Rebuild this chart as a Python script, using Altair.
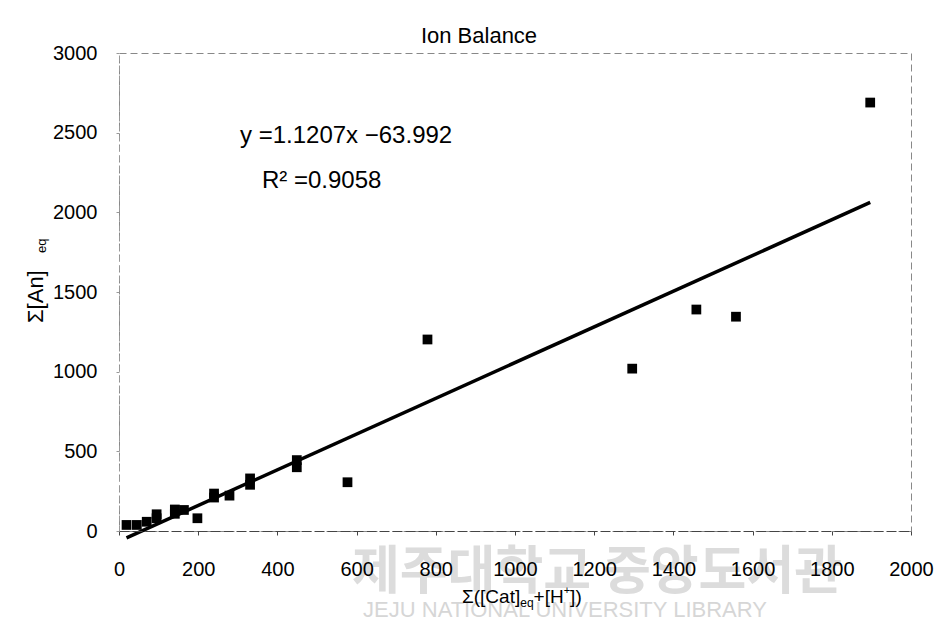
import altair as alt
import pandas as pd

# ---- data ----
cat_sum = [19, 45, 70, 95, 95, 141, 141, 164, 198, 240, 240, 279, 331, 331,
           449, 449, 577, 779, 1296, 1458, 1558, 1897]
an_sum = [38, 38, 58, 105, 80, 135, 108, 132, 80, 235, 210, 222, 330, 290,
          445, 400, 306, 1202, 1019, 1390, 1345, 2689]
slope = 1.1207
intercept = -63.992
x_ticks = list(range(0, 2001, 200))
y_ticks = list(range(0, 3001, 500))

title_text = "Ion Balance"
eq_line1 = "y =1.1207x \u221263.992"
eq_line2 = "R\u00b2 =0.9058"
x_title_parts = ["\u03a3([Cat]", "eq", "+[H", "+", "])"]
y_title_parts = ["\u03a3[An]", "eq"]
watermark_ko = "제주대학교 중앙도서관"
watermark_en = "JEJU NATIONAL UNIVERSITY LIBRARY"

W, H = 792, 478
FONT = "Liberation Sans"

df = pd.DataFrame({"cat": cat_sum, "an": an_sum})
line_df = pd.DataFrame({"cat": [min(cat_sum), max(cat_sum)]})

xs = alt.Scale(domain=[0, 2000], nice=False, zero=False)
ys = alt.Scale(domain=[0, 3000], nice=False, zero=False)

x_axis = alt.Axis(values=x_ticks, title=None, grid=False, labelFontSize=20, format="d",
                  labelFont=FONT, labelColor="black", domainColor="#444",
                  domainDash=[10, 3], tickColor="#444", tickSize=4, zindex=1,
                  labelPadding=24, labelOverlap=False, labelFlush=False)
y_axis = alt.Axis(values=y_ticks, title=None, grid=False, labelFontSize=20, format="d",
                  labelFont=FONT, labelColor="black", domainColor="#999",
                  domainDash=[6, 4], tickColor="#999", tickSize=3, zindex=1,
                  labelPadding=19, labelOverlap=False, labelFlush=False)

points = alt.Chart(df).mark_square(size=95, color="black", opacity=1, filled=True).encode(
    x=alt.X("cat:Q", scale=xs, axis=x_axis),
    y=alt.Y("an:Q", scale=ys, axis=y_axis),
)

trend = alt.Chart(line_df).transform_calculate(
    an=f"{slope} * datum.cat + ({intercept})"
).mark_line(color="black", strokeWidth=3.5).encode(
    x=alt.X("cat:Q", scale=xs),
    y=alt.Y("an:Q", scale=ys),
)


def txt(s, x, y, size, align="left", baseline="alphabetic", angle=0,
        color="black", font=FONT, weight="normal"):
    return alt.Chart(alt.Data(values=[{"t": s}])).mark_text(
        align=align, baseline=baseline, angle=angle, fontSize=size,
        font=font, color=color, fontWeight=weight
    ).encode(x=alt.value(x), y=alt.value(y), text="t:N")


# approximate Arial/Liberation advance widths (em) for laying out sub/superscripts
adv = {"\u03a3": 0.62, "(": 0.333, ")": 0.333, "[": 0.278, "]": 0.278, "C": 0.722,
       "a": 0.556, "t": 0.278, "e": 0.556, "q": 0.556, "+": 0.584, "H": 0.722,
       "A": 0.667, "n": 0.556}


def width(s, size):
    return sum(adv.get(c, 0.55) for c in s) * size


layers = []
# watermark (behind everything)
layers.append(txt(watermark_ko, 478, 520, 52, align="center", baseline="middle",
                  color="#dcdcdc", font="Noto Sans CJK KR", weight="bold"))
layers.append(txt(watermark_en, 446, 557, 22, align="center", baseline="middle",
                  color="#d6d6d6"))
layers.append(points)
layers.append(trend)

# title
layers.append(txt(title_text, 360, -10, 22, align="center"))
# regression equation
layers.append(txt(eq_line1, 121, 90, 24))
layers.append(txt(eq_line2, 143, 135, 24))

# x axis title with subscript / superscript
x0 = 343
base = 550
specs = [(x_title_parts[0], 19, 0), (x_title_parts[1], 12, 4),
         (x_title_parts[2], 19, 0), (x_title_parts[3], 11, -9),
         (x_title_parts[4], 19, 0)]
cx = x0
for s, sz, dy in specs:
    layers.append(txt(s, cx, base + dy, sz))
    cx += width(s, sz)

# y axis title (rotated) with subscript
layers.append(txt(y_title_parts[0], -76, 270, 22, angle=270))
layers.append(txt(y_title_parts[1], -73, 200, 13, angle=270))

chart = alt.layer(*layers).properties(
    width=W, height=H,
    autosize=alt.AutoSizeParams(type="none"),
    padding={"left": 111, "top": 45, "right": 23, "bottom": 92},
).configure_view(stroke="#888", strokeDash=[7, 4], strokeWidth=1)

chart.save("out.html", embed_options={"renderer": "svg", "actions": False})
